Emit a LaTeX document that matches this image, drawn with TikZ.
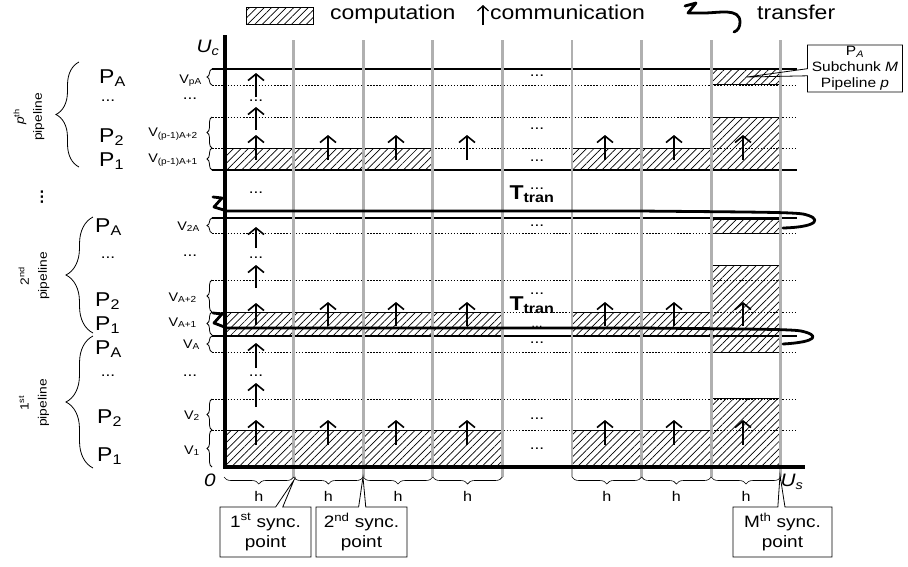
\documentclass[tikz,border=0pt]{standalone}
\usepackage{fontspec}
\setmainfont{Liberation Sans}[FakeStretch=1.15]
\usetikzlibrary{arrows.meta,decorations.pathreplacing,patterns.meta,shapes.callouts}
\definecolor{syncgray}{HTML}{B0B0B0}
\tikzset{
  syncline/.style={draw=syncgray, line width=2.8pt},
  rowline/.style={draw=black, line width=1.2pt},
  rowdots/.style={draw=black, line width=0.8pt, dash pattern=on 1.5pt off 1.6pt},
  axisline/.style={draw=black, line width=3.2pt},
  hatchbox/.style={pattern={Lines[angle=45,distance=5.2pt,line width=0.7pt]}, draw=black, line width=0.8pt},
  commarrow/.style={-{Straight Barb[length=6.5pt,width=16pt]}, line width=1.6pt},
  legarrow/.style={-{Straight Barb[length=5pt,width=11pt]}, line width=1.3pt},
  tranpath/.style={line width=2.8pt, line cap=round, line join=round},
  pipebrace/.style={decorate, decoration={brace, amplitude=#1}, line width=0.8pt},
  vbrace/.style={decorate, decoration={brace, amplitude=5pt}, line width=0.8pt},
  hbrace/.style={decorate, decoration={brace, amplitude=7pt}, line width=0.6pt},
  plabel/.style={font=\fontsize{20}{22}\selectfont, anchor=base west, inner sep=0pt},
  vlabel/.style={font=\fontsize{12.5}{14}\selectfont, anchor=base east, inner sep=0pt},
  hlabel/.style={font=\fontsize{14}{16}\selectfont},
  dotslabel/.style={font=\fontsize{15}{16}\selectfont, anchor=base, inner sep=0pt},
  pipetag/.style={font=\fontsize{12}{18}\selectfont, rotate=90, align=center, inner sep=0pt},
  axislabel/.style={font=\fontsize{18}{20}\selectfont\itshape},
  ttran/.style={font=\fontsize{20}{22}\selectfont\bfseries},
  syncbox/.style={rectangle callout, draw=black, line width=0.8pt, align=center,
    font=\fontsize{16.5}{20}\selectfont, minimum width=91pt, minimum height=50pt, inner sep=1pt},
  notebox/.style={rectangle callout, draw=black, line width=0.8pt, align=center,
    font=\fontsize{13.5}{16}\selectfont, minimum width=95pt, minimum height=47pt, inner sep=1pt},
  legendtext/.style={font=\fontsize{20}{22}\selectfont, anchor=base west, inner sep=0pt}
}

\begin{document}
\begin{tikzpicture}[x=1pt,y=-1pt]
  \useasboundingbox (0,0) rectangle (908,566);

  % computation blocks
  \foreach \xa/\ya/\xb/\yb in {225/148/432/170, 572/148/712/170, 712/117/780/170, 712/69/780/84,
                               225/312/502/335, 572/312/712/335, 712/265/780/335, 712/219/780/233,
                               225/430/502/467, 572/430/712/467, 712/398/780/467, 712/336/780/352}
    \draw[hatchbox] (\xa,\ya) rectangle (\xb,\yb);

  % rows of the storage nodes
  \foreach \y in {69,170,218,336}
    \draw[rowline] (212,\y) -- (797,\y);
  \foreach \y in {85,117,148,233,280,312,352,399,430}
    \draw[rowdots] (212,\y) -- (797,\y);

  % sync. points
  \foreach \k in {1,...,8}
    \draw[syncline] ({224+69.6*\k},40) -- ({224+69.6*\k},477);

  % axes
  \draw[axisline] (225,35) -- (225,468.5);
  \draw[axisline] (223.5,467) -- (805,467);
  \node[axislabel] (uc) at (208,48) {U\textsubscript{c}};
  \node[axislabel] (zero) at (210,480) {0};
  \node[axislabel] (us) at (792,482) {U\textsubscript{s}};

  % transfers between pipelines
  \draw[tranpath] (213,197) -- (222,198) -- (214,207) -- (227,211) -- (640,211)
    .. controls (740,212) and (790,212) .. (803,214)
    .. controls (822,218) and (820,227) .. (783,228);
  \draw[tranpath] (213,313) -- (222,314) -- (214,323) -- (227,328) -- (640,328)
    .. controls (740,329) and (790,329) .. (801,331)
    .. controls (820,335) and (818,342) .. (783,344);
  \node[ttran] (tran1) at (532,194) {T\textsubscript{tran}};
  \node[ttran] (tran2) at (532,305) {T\textsubscript{tran}};

  % communication
  \foreach \x in {328,396,467,605,674,743} {
    \draw[commarrow] (\x,160) -- (\x,135);
    \draw[commarrow] (\x,326) -- (\x,302);
    \draw[commarrow] (\x,445) -- (\x,420);
  }
  \foreach \ya/\yb in {160/135, 130/107, 97/73, 248/227, 288/265, 325/303, 368/343, 407/383, 445/420}
    \draw[commarrow] (256,\ya) -- (256,\yb);

  % gaps
  \foreach \x/\y [count=\i] in {256/100, 256/192, 256/257, 256/375,
                                537/75, 537/128, 537/160, 537/188, 537/225, 537/293,
                                537/342, 537/418, 537/448, 190/98, 190/255, 190/375,
                                108/100, 108/257, 108/375}
    \node[dotslabel] (gap\i) at (\x,\y+1.5) {...};
  \node[dotslabel, font=\fontsize{12}{13}\selectfont] (gapt) at (537,327) {...};
  \node[dotslabel, font=\fontsize{15}{16}\selectfont\bfseries, rotate=90, anchor=center] (vgap) at (42,197) {...};

  % pipelines
  \draw[pipebrace=23pt] (79,167) -- (79,62);
  \draw[pipebrace=27pt] (93,333) -- (93,217);
  \draw[pipebrace=27pt] (93,468) -- (93,336);
  \node[pipetag] (tagp) at (29,117) {\textit{p}\textsuperscript{th}\\pipeline};
  \node[pipetag] (tag2) at (34,276) {2\textsuperscript{nd}\\pipeline};
  \node[pipetag] (tag1) at (34,403) {1\textsuperscript{st}\\pipeline};

  \node[plabel] (ppa) at (99,83) {P\textsubscript{A}};
  \node[plabel] (pp2) at (99,142) {P\textsubscript{2}};
  \node[plabel] (pp1) at (99,166) {P\textsubscript{1}};
  \node[plabel] (p2a) at (95,232) {P\textsubscript{A}};
  \node[plabel] (p22) at (95,306) {P\textsubscript{2}};
  \node[plabel] (p21) at (95,330) {P\textsubscript{1}};
  \node[plabel] (p1a) at (95,354) {P\textsubscript{A}};
  \node[plabel] (p12) at (97,423) {P\textsubscript{2}};
  \node[plabel] (p11) at (97,461) {P\textsubscript{1}};

  % subchunks
  \foreach \ya/\yb in {69/85, 117/148, 148/170, 218/233, 280/312, 312/335, 336/352, 399/430, 430/467}
    \draw[vbrace] (212,\yb) -- (212,\ya);
  \node[vlabel] (vpa) at (202,83) {V\textsubscript{pA}};
  \node[vlabel] (vpb) at (198,136) {V\textsubscript{(p-1)A+2}};
  \node[vlabel] (vpc) at (198,162) {V\textsubscript{(p-1)A+1}};
  \node[vlabel] (v2a) at (200,230) {V\textsubscript{2A}};
  \node[vlabel] (va2) at (197,301) {V\textsubscript{A+2}};
  \node[vlabel] (va1) at (197,326) {V\textsubscript{A+1}};
  \node[vlabel] (va) at (200,348) {V\textsubscript{A}};
  \node[vlabel] (v2) at (200,419) {V\textsubscript{2}};
  \node[vlabel] (v1) at (200,454) {V\textsubscript{1}};

  % intervals
  \foreach \k in {1,2,3,4,6,7,8} {
    \draw[hbrace] ({224+69.6*\k},477) -- ({224+69.6*(\k-1)},477);
    \node[hlabel] (h\k) at ({224+69.6*\k-34.8},496) {h};
  }

  % callouts
  \node[syncbox, callout absolute pointer={(294,480)}] (sync1) at (265.5,532) {1\textsuperscript{st} sync.\\point};
  \node[syncbox, callout absolute pointer={(363,477)}] (sync2) at (361.5,532) {2\textsuperscript{nd} sync.\\point};
  \node[syncbox, minimum width=99pt, callout absolute pointer={(780,475)}] (syncm) at (782.5,532) {M\textsuperscript{th} sync.\\point};
  \node[notebox, callout absolute pointer={(747,77)}] (subchunk) at (855,68.5) {P\textsubscript{\textit{A}}\\Subchunk \textit{M}\\Pipeline \textit{p}};

  % legend
  \draw[hatchbox] (246,7) rectangle (313,24);
  \node[legendtext] (legcomp) at (330,19.5) {computation};
  \draw[legarrow] (483,25) -- (483,5);
  \node[legendtext] (legcomm) at (490,19.5) {communication};
  \coordinate (tranicon) at (684,3);
  \draw[tranpath] (tranicon) ++(1,3) -- ++(11,-3) -- ++(-8,10) to[out=0,in=180] ++(16,0)
    to[out=0,in=90] ++(36,9) to[out=-90,in=20] ++(-6,10);
  \node[legendtext] (legtran) at (757,19.5) {transfer};

\end{tikzpicture}
\end{document}
